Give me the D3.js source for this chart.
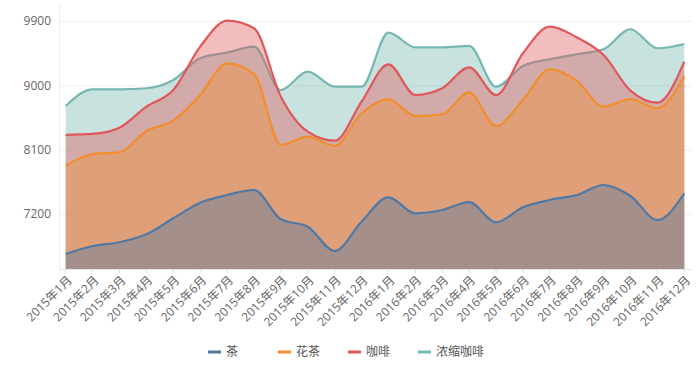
<!DOCTYPE html>
<html>
<head>
<meta charset="utf-8">
<script src="https://cdn.jsdelivr.net/npm/d3@7"></script>
<style>
  html, body { margin: 0; padding: 0; background: #fff; }
  svg { display: block; font-family: "Open Sans", "Noto Sans CJK SC", sans-serif; }
</style>
</head>
<body>
<svg id="chart" width="700" height="365"></svg>
<script>
const categories = ["2015年1月","2015年2月","2015年3月","2015年4月","2015年5月","2015年6月","2015年7月","2015年8月","2015年9月","2015年10月","2015年11月","2015年12月","2016年1月","2016年2月","2016年3月","2016年4月","2016年5月","2016年6月","2016年7月","2016年8月","2016年9月","2016年10月","2016年11月","2016年12月"];
const seriesNames = ["茶", "花茶", "咖啡", "浓缩咖啡"];
const tea = [6645, 6757, 6809, 6920, 7144, 7362, 7469, 7539, 7130, 7027, 6687, 7097, 7437, 7214, 7260, 7371, 7088, 7298, 7400, 7469, 7609, 7455, 7120, 7493];
const flowerTea = [7879, 8042, 8066, 8364, 8508, 8866, 9309, 9160, 8168, 8284, 8154, 8610, 8806, 8573, 8596, 8903, 8433, 8797, 9225, 9066, 8703, 8810, 8680, 9132];
const coffee = [8308, 8322, 8410, 8703, 8936, 9541, 9904, 9798, 8843, 8354, 8228, 8773, 9295, 8866, 8960, 9253, 8866, 9449, 9820, 9672, 9425, 8927, 8759, 9332];
const espresso = [8713, 8946, 8946, 8960, 9076, 9379, 9457, 9541, 8936, 9192, 8982, 8982, 9737, 9532, 9532, 9551, 8982, 9272, 9365, 9435, 9505, 9784, 9519, 9579];
const yTicks = [7200, 8100, 9000, 9900];
const yDomain = [6436, 10123];
const colors = ["#4e79a7", "#f28e2c", "#e15759", "#76b7b2"];

const seriesValues = [tea, flowerTea, coffee, espresso];

const svg = d3.select("#chart");
const plotLeft = 59, plotRight = 692, plotTop = 5, plotBottom = 269;

const x = d3.scalePoint().domain(categories).range([65.7, 684.3]);
const y = d3.scaleLinear().domain(yDomain).range([plotBottom, plotTop]);

// grid lines
svg.append("g").selectAll("line").data(yTicks).join("line")
  .attr("x1", plotLeft).attr("x2", plotRight)
  .attr("y1", d => y(d) + 0.5).attr("y2", d => y(d) + 0.5)
  .attr("stroke", "#eeeeee").attr("stroke-width", 1);

// left axis line
svg.append("line")
  .attr("x1", plotLeft + 0.5).attr("x2", plotLeft + 0.5)
  .attr("y1", plotTop).attr("y2", plotBottom)
  .attr("stroke", "#eeeeee");

// y labels
svg.append("g").selectAll("text").data(yTicks).join("text")
  .attr("x", 51).attr("y", d => y(d)).attr("dy", "0.35em")
  .attr("text-anchor", "end").attr("font-size", 12).attr("fill", "#666")
  .text(d => d);

// areas and lines, drawn last series first
const area = d3.area().x((d, i) => x(categories[i])).y0(plotBottom).y1(d => y(d)).curve(d3.curveMonotoneX);
const line = d3.line().x((d, i) => x(categories[i])).y(d => y(d)).curve(d3.curveMonotoneX);

for (let s = seriesValues.length - 1; s >= 0; s--) {
  svg.append("path").datum(seriesValues[s]).attr("d", area)
    .attr("fill", colors[s]).attr("fill-opacity", 0.4);
  svg.append("path").datum(seriesValues[s]).attr("d", line)
    .attr("fill", "none").attr("stroke", colors[s]).attr("stroke-width", 2.2)
    .attr("stroke-linejoin", "round");
}

// x axis line
svg.append("line")
  .attr("x1", plotLeft).attr("x2", plotRight)
  .attr("y1", plotBottom + 0.5).attr("y2", plotBottom + 0.5)
  .attr("stroke", "#e6e6e6");

// x ticks
svg.append("g").selectAll("line").data(categories).join("line")
  .attr("x1", d => x(d)).attr("x2", d => x(d))
  .attr("y1", plotBottom).attr("y2", plotBottom + 4)
  .attr("stroke", "#dddddd");

// x labels
svg.append("g").selectAll("text").data(categories).join("text")
  .attr("transform", d => `translate(${x(d) + 4},${plotBottom + 9}) rotate(-45)`)
  .attr("text-anchor", "end").attr("dy", "0.35em")
  .attr("font-size", 12).attr("fill", "#666")
  .text(d => d);

// legend
const legend = svg.append("g");
const legendX = [208, 278, 348, 418];
seriesNames.forEach((name, i) => {
  legend.append("rect").attr("x", legendX[i]).attr("y", 350.5).attr("width", 13).attr("height", 3)
    .attr("fill", colors[i]);
  legend.append("text").attr("x", legendX[i] + 18).attr("y", 352).attr("dy", "0.35em")
    .attr("font-size", 12).attr("fill", "#555").text(name);
});
</script>
</body>
</html>
